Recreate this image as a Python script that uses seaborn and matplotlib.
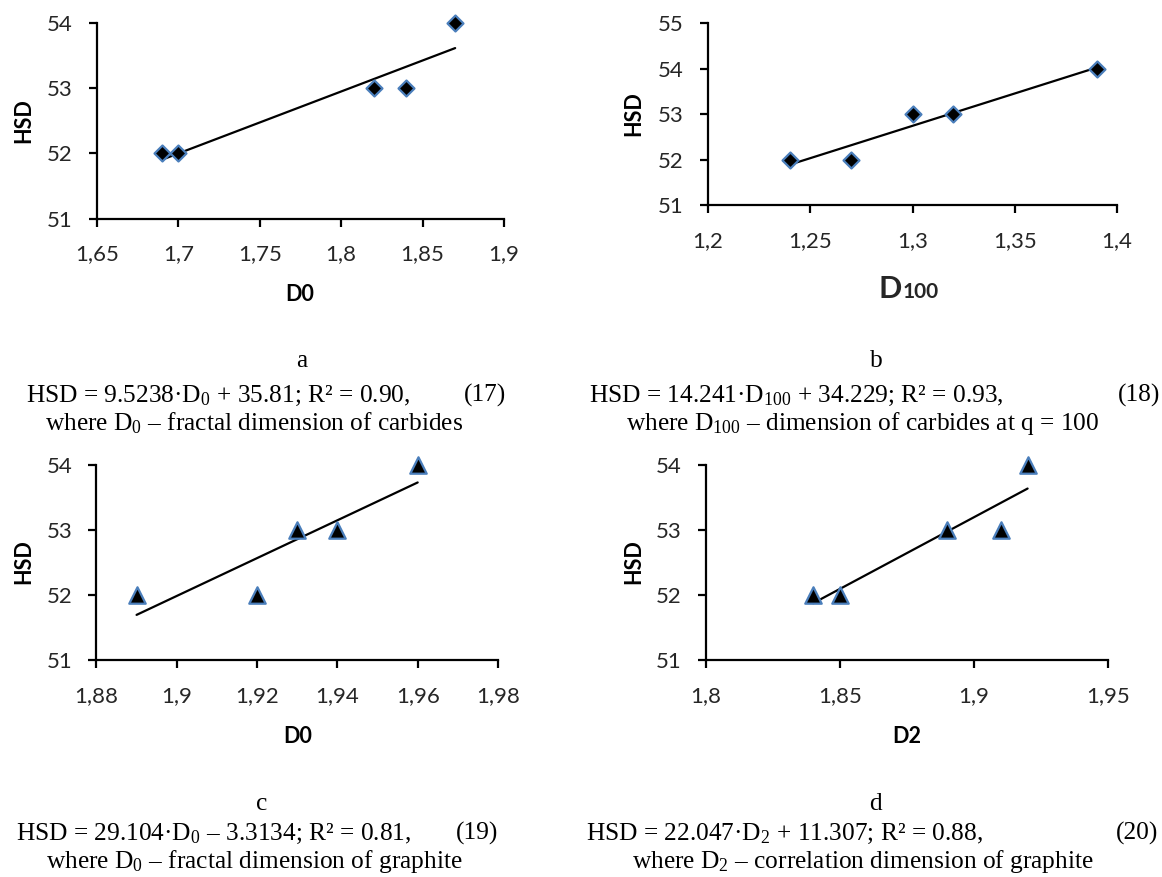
import matplotlib
matplotlib.use("Agg")
import matplotlib.pyplot as plt
import seaborn as sns
import numpy as np

# ---------------- data ----------------
a_x = [1.69, 1.70, 1.82, 1.84, 1.87]
a_y = [52, 52, 53, 53, 54]
b_x = [1.24, 1.27, 1.30, 1.32, 1.39]
b_y = [52, 52, 53, 53, 54]
c_x = [1.89, 1.92, 1.93, 1.94, 1.96]
c_y = [52, 52, 53, 53, 54]
d_x = [1.84, 1.85, 1.89, 1.91, 1.92]
d_y = [52, 52, 53, 53, 54]

a_xticks = [1.65, 1.70, 1.75, 1.80, 1.85, 1.90]
a_xlabels = ["1,65", "1,7", "1,75", "1,8", "1,85", "1,9"]
b_xticks = [1.20, 1.25, 1.30, 1.35, 1.40]
b_xlabels = ["1,2", "1,25", "1,3", "1,35", "1,4"]
c_xticks = [1.88, 1.90, 1.92, 1.94, 1.96, 1.98]
c_xlabels = ["1,88", "1,9", "1,92", "1,94", "1,96", "1,98"]
d_xticks = [1.80, 1.85, 1.90, 1.95]
d_xlabels = ["1,8", "1,85", "1,9", "1,95"]
yticks_54 = [51, 52, 53, 54]
yticks_55 = [51, 52, 53, 54, 55]

# ---------------- style ----------------
sns.set_theme(style="ticks")
plt.rcParams["font.family"] = ["Lato", "DejaVu Sans"]
plt.rcParams["mathtext.fontset"] = "custom"
plt.rcParams["mathtext.rm"] = "Liberation Serif"
plt.rcParams["mathtext.it"] = "Liberation Serif:italic"
plt.rcParams["mathtext.bf"] = "Liberation Serif:bold"

W, H = 1162, 877
fig = plt.figure(figsize=(W / 100, H / 100), dpi=100)


def px(x, y):
    return x / W, 1 - y / H


def make_ax(x0, y0, x1, y1):
    return fig.add_axes([x0 / W, 1 - y1 / H, (x1 - x0) / W, (y1 - y0) / H])


EDGE = "#4A7EBB"
TICK_FS = 16
LABEL_FS = 15.5


def panel(ax, xs, ys, marker, size, xticks, xlabels, yticks, ylab_px, xlab):
    sns.regplot(x=np.array(xs), y=np.array(ys), ax=ax, ci=None, marker=marker,
                scatter_kws=dict(s=size, color="black", edgecolors=EDGE,
                                 linewidths=1.6, zorder=3, alpha=1),
                line_kws=dict(color="black", lw=1.6, zorder=2))
    ax.set_xlim(xticks[0], xticks[-1])
    ax.set_ylim(yticks[0], yticks[-1])
    ax.set_xticks(xticks)
    ax.set_xticklabels(xlabels)
    ax.set_yticks(yticks)
    ax.set_yticklabels([str(v) for v in yticks])
    sns.despine(ax=ax)
    for s in ("left", "bottom"):
        ax.spines[s].set_linewidth(1.6)
        ax.spines[s].set_color("black")
    ax.tick_params(axis="both", direction="out", length=5.5, width=1.6,
                   color="black", labelsize=TICK_FS, labelcolor="#262626")
    ax.tick_params(axis="y", pad=12)
    ax.tick_params(axis="x", pad=13)
    ax.set_ylabel("HSD", fontsize=LABEL_FS, fontweight="bold", color="black")
    ax.yaxis.set_label_coords(*px(*ylab_px), transform=fig.transFigure)
    if xlab is not None:
        ax.set_xlabel(xlab[0], fontsize=LABEL_FS, fontweight="bold", color="black")
        ax.xaxis.set_label_coords(*px(xlab[1], xlab[2]), transform=fig.transFigure)
    else:
        ax.set_xlabel("")
    for c in ax.collections:
        c.set_clip_on(False)


ax_a = make_ax(97, 23.3, 504, 218.5)
panel(ax_a, a_x, a_y, "D", 66, a_xticks, a_xlabels, yticks_54, (34, 121), ("D0", 300, 284))

ax_b = make_ax(708, 23.3, 1117, 205)
panel(ax_b, b_x, b_y, "D", 66, b_xticks, b_xlabels, yticks_55, (644, 114), None)
fig.text(*px(902, 298), "D", fontsize=22, fontweight="bold", ha="right", va="baseline")
fig.text(*px(903, 298), "100", fontsize=15, fontweight="bold", ha="left", va="baseline")

ax_c = make_ax(96.4, 465, 498, 660)
panel(ax_c, c_x, c_y, "^", 140, c_xticks, c_xlabels, yticks_54, (34, 562), ("D0", 298, 726))

ax_d = make_ax(706, 465, 1108, 660)
panel(ax_d, d_x, d_y, "^", 140, d_xticks, d_xlabels, yticks_54, (644, 562), ("D2", 907, 726))

# ---------------- captions ----------------
SERIF = ["Liberation Serif", "DejaVu Serif"]
CAP_FS = 18.3


def cap(x, y, s, ha="left"):
    fig.text(*px(x, y), s, fontsize=CAP_FS, family=SERIF, ha=ha, va="baseline",
             color="black")


cap(302, 367, "a", ha="center")
cap(26, 402, "HSD = 9.5238·D$_0$ + 35.81; R² = 0.90,")
cap(506, 402, "(17)", ha="right")
cap(45, 430, "where D$_0$ – fractal dimension of carbides")

cap(876, 367, "b", ha="center")
cap(589, 402, "HSD = 14.241·D$_{100}$ + 34.229; R² = 0.93,")
cap(1160, 402, "(18)", ha="right")
cap(626, 430, "where D$_{100}$ – dimension of carbides at q = 100")

cap(262, 810, "c", ha="center")
cap(16, 840, "HSD = 29.104·D$_0$ – 3.3134; R² = 0.81,")
cap(498, 840, "(19)", ha="right")
cap(46, 868, "where D$_0$ – fractal dimension of graphite")

cap(875, 810, "d", ha="center")
cap(586, 840, "HSD = 22.047·D$_2$ + 11.307; R² = 0.88,")
cap(1158, 840, "(20)", ha="right")
cap(632, 868, "where D$_2$ – correlation dimension of graphite")

fig.savefig("out.png", dpi=100, facecolor="white")
